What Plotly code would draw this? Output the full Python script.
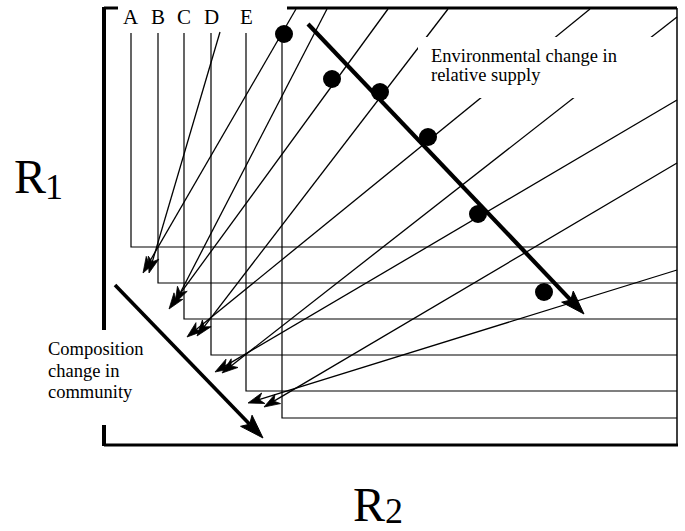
import numpy as np
import plotly.graph_objects as go

# ---------------- data (diagram units = canvas pixels) ----------------
species = ['A', 'B', 'C', 'D', 'E']
zngi_x = [131, 158, 184, 211, 246, 282]      # vertical part of each L-shaped ZNGI
zngi_y = [247, 283, 319, 355, 391, 418]      # horizontal part of each ZNGI
zngi_top = 33
right_edge = 677

supply_x = [284, 332, 380, 428, 478, 544]    # supply points (dots)
supply_y = [34, 79, 92, 137, 214, 292]

# consumption vectors: far end on the frame -> arrow tip near the 2-species equilibrium
vec_end_x = [220, 296, 327, 388, 448, 590, 677, 677, 677, 677]
vec_end_y = [32, 9, 9, 9, 9, 9, 17, 100, 163, 270]
vec_tip_x = [149, 143, 175, 169, 197, 187, 222, 215, 264, 248]
vec_tip_y = [273, 273, 303, 309, 336, 337, 373, 372, 407, 403]

env_arrow_x = [308, 584]
env_arrow_y = [24, 314]
comp_arrow_x = [115, 263]
comp_arrow_y = [285, 438]

frame_left, frame_top, frame_bottom = 104, 8, 445

env_text = ['Environmental change in', 'relative supply']
comp_text = ['Composition', 'change in', 'community']
axis_names = [('R', '1'), ('R', '2')]

# ---------------- helpers ----------------
def head(tx, ty, fx, fy, L, W, notch=0.72):
    u = np.array([tx - fx, ty - fy], float)
    u /= np.hypot(*u)
    p = np.array([-u[1], u[0]])
    t = np.array([tx, ty], float)
    b = t - L * u
    pts = [t, b + W * p, t - notch * L * u, b - W * p, t]
    return [q[0] for q in pts], [q[1] for q in pts], t - notch * L * u

fig = go.Figure()

# ZNGIs
lx, ly = [], []
for x, y in zip(zngi_x, zngi_y):
    lx += [x, x, right_edge, None]
    ly += [zngi_top, y, y, None]
fig.add_trace(go.Scatter(x=lx, y=ly, mode='lines', line=dict(color='black', width=1.2),
                         hoverinfo='skip', showlegend=False))

# consumption vectors with arrowheads
vx, vy = [], []
for ex, ey, tx, ty in zip(vec_end_x, vec_end_y, vec_tip_x, vec_tip_y):
    hx, hy, n = head(tx, ty, ex, ey, 16, 5.5)
    vx += [ex, n[0], None]
    vy += [ey, n[1], None]
    fig.add_trace(go.Scatter(x=hx, y=hy, mode='lines', fill='toself', fillcolor='black',
                             line=dict(color='black', width=0.8), hoverinfo='skip', showlegend=False))
fig.add_trace(go.Scatter(x=vx, y=vy, mode='lines', line=dict(color='black', width=1.3),
                         hoverinfo='skip', showlegend=False))

# thick arrows
for ax_, ay_, w in [(env_arrow_x, env_arrow_y, 4.2), (comp_arrow_x, comp_arrow_y, 3.6)]:
    hx, hy, n = head(ax_[1], ay_[1], ax_[0], ay_[0], 24, 8, notch=0.8)
    fig.add_trace(go.Scatter(x=[ax_[0], n[0]], y=[ay_[0], n[1]], mode='lines',
                             line=dict(color='black', width=w), hoverinfo='skip', showlegend=False))
    fig.add_trace(go.Scatter(x=hx, y=hy, mode='lines', fill='toself', fillcolor='black',
                             line=dict(color='black', width=1), hoverinfo='skip', showlegend=False))

# supply points
fig.add_trace(go.Scatter(x=supply_x, y=supply_y, mode='markers',
                         marker=dict(color='black', size=18, line=dict(width=0)),
                         hoverinfo='skip', showlegend=False))

# frame + text mask
shapes = [
    dict(type='rect', x0=418, x1=662, y0=37, y1=98, fillcolor='white', line=dict(width=0), layer='above'),
    dict(type='line', x0=frame_left, x1=frame_left, y0=frame_top - 1, y1=330, line=dict(color='black', width=4)),
    dict(type='line', x0=frame_left, x1=frame_left, y0=425, y1=frame_bottom + 1, line=dict(color='black', width=4)),
    dict(type='line', x0=frame_left, x1=118, y0=frame_top, y1=frame_top, line=dict(color='black', width=3)),
    dict(type='line', x0=287, x1=right_edge, y0=frame_top, y1=frame_top, line=dict(color='black', width=3)),
    dict(type='line', x0=frame_left, x1=right_edge + 1, y0=frame_bottom, y1=frame_bottom, line=dict(color='black', width=3)),
    dict(type='line', x0=right_edge, x1=right_edge, y0=frame_top, y1=frame_bottom, line=dict(color='black', width=1.5)),
]
for s in shapes:
    s.update(xref='x', yref='y')

serif = 'Liberation Serif'
ann = []
for lab, x in zip(species, zngi_x):
    ann.append(dict(x=x, y=17, text=lab, showarrow=False, xanchor='center', yanchor='middle',
                    font=dict(family=serif, size=21, color='black')))
for i, t in enumerate(env_text):
    ann.append(dict(x=429, y=56 + 19 * i, text=t, showarrow=False, xanchor='left', yanchor='middle',
                    font=dict(family=serif, size=18.5, color='black')))
for i, t in enumerate(comp_text):
    ann.append(dict(x=46, y=349 + 21.5 * i, text=t, showarrow=False, xanchor='left', yanchor='middle',
                    font=dict(family=serif, size=18.5, color='black')))
# R1 (left) and R2 (bottom): main letter + subscript as separate texts
name_pos = [((30, 176, 48), (54, 187, 36)), ((369, 504, 48), (394, 511, 36))]
for (main, sub), ((mx, my, ms), (sx, sy, ss)) in zip(axis_names, name_pos):
    ann.append(dict(x=mx, y=my, text=main, showarrow=False, xanchor='center', yanchor='middle',
                    font=dict(family=serif, size=ms, color='black')))
    ann.append(dict(x=sx, y=sy, text=sub, showarrow=False, xanchor='center', yanchor='middle',
                    font=dict(family=serif, size=ss, color='black')))
for a in ann:
    a.update(xref='x', yref='y')

fig.update_layout(
    width=685, height=531, margin=dict(l=0, r=0, t=0, b=0),
    paper_bgcolor='white', plot_bgcolor='white',
    xaxis=dict(range=[0, 685], visible=False, fixedrange=True),
    yaxis=dict(range=[531, 0], visible=False, fixedrange=True),
    shapes=shapes, annotations=ann, showlegend=False,
)
fig.write_html('out.html', config={'displayModeBar': False},
               post_script="document.body.style.margin='0';document.body.style.overflow='hidden';")
